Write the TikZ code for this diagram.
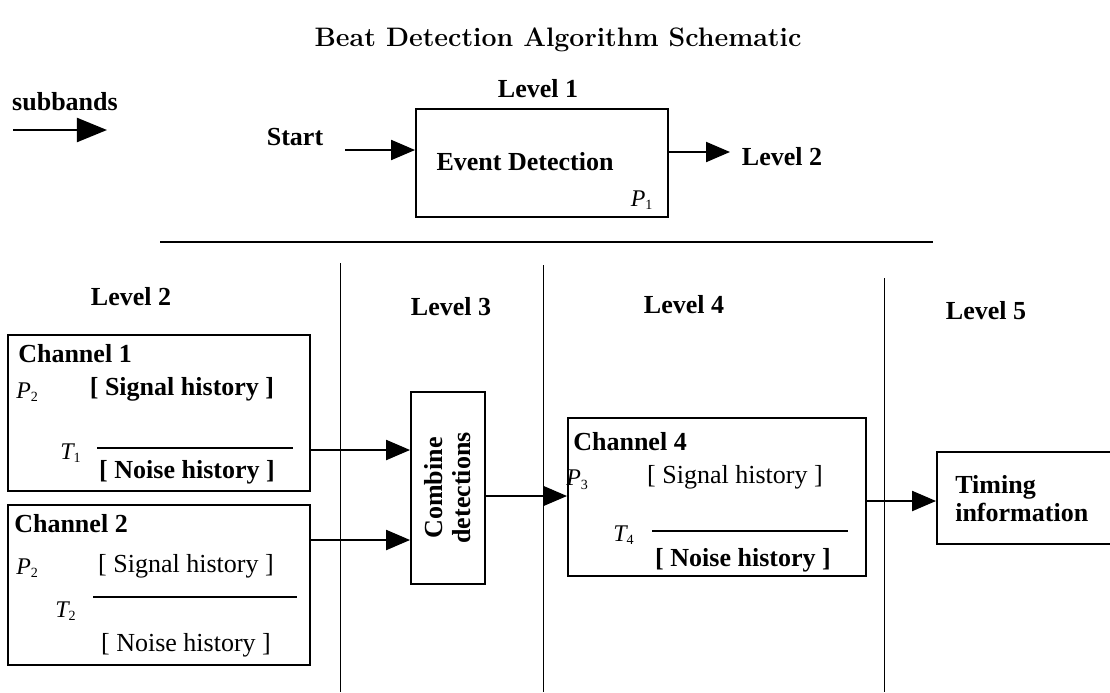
\documentclass[tikz,border=0pt]{standalone}
\usepackage{fontspec}
\newfontfamily\tms{Liberation Serif}
\usetikzlibrary{arrows.meta}
\newcommand{\idx}[2]{{\tms\itshape #1}\textsubscript{\tms\fontsize{10}{11}\selectfont #2}}
\tikzset{
  box/.style={draw, line width=1.3pt, inner sep=0pt},
  bold/.style={font=\tms\bfseries\fontsize{18.5}{20}\selectfont, inner sep=0pt},
  thin/.style={font=\tms\fontsize{18.5}{20}\selectfont, inner sep=0pt},
  var/.style={font=\fontsize{17}{20}\selectfont, inner sep=0pt},
  arr/.style={line width=1.5pt, -{Triangle[length=6mm,width=5mm]}},
}

\begin{document}
\begin{tikzpicture}[x=0.025cm, y=-0.025cm]
  \useasboundingbox (0,0) rectangle (1110,692);
  \node[font=\bfseries\fontsize{19}{21}\selectfont] (title) at (558,40) {Beat Detection Algorithm Schematic}; %タイトル
  % レベル1
  \node[bold] (sub) at (65,102) {subbands};
  \coordinate (subS) at (13,130);
  \coordinate (subE) at (107,130);
  \draw[line width=1.5pt, -{Triangle[length=7.5mm,width=6mm]}] (subS)--(subE); %subbands矢印
  \node[bold] (lv1) at (538,89) {Level 1};
  \node[bold] (start) at (295,137) {Start};
  \node[box, minimum width=6.3cm, minimum height=2.7cm] (ev) at (542,163) {}; %Event Detection
  \node[bold] (evt) at (525,162) {Event Detection};
  \node[var] (p1) at (642,200) {\idx{P}{1}};
  \coordinate (stS) at (345,150);
  \draw[arr] (stS)--(stS -| ev.west); %Start矢印
  \coordinate (evS) at (668,152);
  \coordinate (evE) at (730,152);
  \draw[arr] (evS)--(evE);
  \node[bold] (lv2out) at (782,157) {Level 2};
  \coordinate (hS) at (160,242);
  \coordinate (hE) at (933,242);
  \draw[line width=1.3pt] (hS)--(hE); %区切り線
  % 縦線
  \coordinate (v1) at (340,263);
  \coordinate (v2) at (543,265);
  \coordinate (v3) at (884,278);
  \draw[line width=0.7pt] (v1)--(v1 |- 0,692);
  \draw[line width=0.7pt] (v2)--(v2 |- 0,692);
  \draw[line width=0.7pt] (v3)--(v3 |- 0,692);
  \node[bold] (lv2) at (131,297) {Level 2};
  \node[bold] (lv3) at (451,307) {Level 3};
  \node[bold] (lv4) at (684,305) {Level 4};
  \node[bold] (lv5) at (986,311) {Level 5};
  % Channel 1
  \node[box, minimum width=7.55cm, minimum height=3.9cm] (ch1) at (159,413) {};
  \node[bold, anchor=west] (ch1t) at (18,354) {Channel 1};
  \node[var, anchor=west] (ch1p) at (16,392) {\idx{P}{2}};
  \node[bold] (ch1s) at (182,389) {[ Signal history ]};
  \node[var, anchor=west] (ch1T) at (60,453) {\idx{T}{1}};
  \coordinate (ch1a) at (97,448);
  \coordinate (ch1b) at (293,448);
  \draw[line width=0.8pt] (ch1a)--(ch1b);
  \node[bold] (ch1n) at (187,472) {[ Noise history ]};
  % Channel 2
  \node[box, minimum width=7.55cm, minimum height=4cm] (ch2) at (159,585) {};
  \node[bold, anchor=west] (ch2t) at (14,524) {Channel 2};
  \node[var, anchor=west] (ch2p) at (16,568) {\idx{P}{2}};
  \node[thin] (ch2s) at (186,566) {[ Signal history ]};
  \node[var, anchor=west] (ch2T) at (55,611) {\idx{T}{2}};
  \coordinate (ch2a) at (93,597);
  \coordinate (ch2b) at (297,597);
  \draw[line width=0.8pt] (ch2a)--(ch2b);
  \node[thin] (ch2n) at (186,645) {[ Noise history ]};
  % Level 3
  \node[box, minimum width=1.85cm, minimum height=4.8cm] (cmb) at (448,488) {};
  \node[bold, rotate=90, align=center] (cmbt) at (448,488) {Combine\\detections};
  \coordinate (a1) at (310,450);
  \coordinate (a2) at (310,540);
  \draw[arr] (a1)--(a1 -| cmb.west);
  \draw[arr] (a2)--(a2 -| cmb.west);
  % Channel 4
  \node[box, minimum width=7.45cm, minimum height=3.95cm] (ch4) at (717,497) {};
  \coordinate (a3) at (485,496);
  \draw[arr] (a3)--(a3 -| ch4.west);
  \node[bold, anchor=west] (ch4t) at (573,442) {Channel 4};
  \node[var, anchor=west] (ch4p) at (566,480) {\idx{P}{3}};
  \node[thin] (ch4s) at (735,477) {[ Signal history ]};
  \node[var, anchor=west] (ch4T) at (613,535) {\idx{T}{4}};
  \coordinate (ch4a) at (652,531);
  \coordinate (ch4b) at (848,531);
  \draw[line width=0.8pt] (ch4a)--(ch4b);
  \node[bold] (ch4n) at (743,560) {[ Noise history ]};
  % Level 5
  \node[box, minimum width=4.8cm, minimum height=2.3cm] (tim) at (1033,498) {};
  \coordinate (a4) at (867,501);
  \draw[arr] (a4)--(a4 -| tim.west);
  \node[bold, anchor=west, align=left] (timt) at (955,499) {Timing\\information};
\end{tikzpicture}
\end{document}
